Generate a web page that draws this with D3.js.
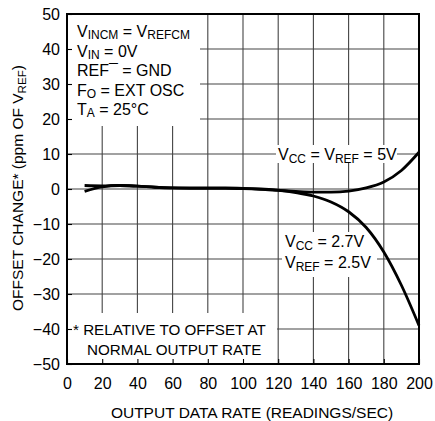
<!DOCTYPE html>
<html><head><meta charset="utf-8">
<script src="https://cdn.jsdelivr.net/npm/d3@7"></script>
<style>
body{margin:0;background:#fff;}
text{font-family:"Liberation Sans",Arial,Helvetica,sans-serif;fill:#000;}
</style></head>
<body>
<svg id="c" width="435" height="421"></svg>
<script>
const rates = [10,20,30,40,50,60,70,80,90,100,110,120,130,140,150,160,170,180,190,200];
const vcc5 = [1.0,0.9,1.0,0.8,0.5,0.3,0.2,0.2,0.2,0.1,-0.1,-0.4,-0.7,-0.9,-0.9,-0.6,0.3,2.0,5.3,10.5];
const vcc27 = [-0.7,0.6,1.0,0.8,0.5,0.3,0.3,0.3,0.3,0.2,0.0,-0.3,-1.0,-2.0,-3.7,-6.5,-11,-18,-27.5,-39];
const xTicks = [0,20,40,60,80,100,120,140,160,180,200];
const yTicks = [-50,-40,-30,-20,-10,0,10,20,30,40,50];

const L=67,R=419,T=14,B=364;
const svg=d3.select("#c");
const x=d3.scaleLinear().domain([0,200]).range([L,R]);
const y=d3.scaleLinear().domain([-50,50]).range([B,T]);

// grid
const g=svg.append("g");
g.selectAll(".vg").data(xTicks.slice(1,-1)).join("line")
 .attr("x1",d=>x(d)).attr("x2",d=>x(d)).attr("y1",T).attr("y2",B)
 .attr("stroke","#444").attr("stroke-width",1.1);
g.selectAll(".hg").data(yTicks.slice(1,-1)).join("line")
 .attr("y1",d=>y(d)).attr("y2",d=>y(d)).attr("x1",L).attr("x2",R)
 .attr("stroke","#444").attr("stroke-width",1.1);

const bg=svg.append("g");
const ann=svg.append("g");

// frame + inward ticks
svg.append("rect").attr("x",L).attr("y",T).attr("width",R-L).attr("height",B-T)
 .attr("fill","none").attr("stroke","#000").attr("stroke-width",2);
const ya=svg.append("g").attr("transform",`translate(${L},0)`)
 .call(d3.axisLeft(y).tickValues(yTicks).tickSizeInner(-5).tickSizeOuter(0).tickPadding(7));
const xa=svg.append("g").attr("transform",`translate(0,${B})`)
 .call(d3.axisBottom(x).tickValues(xTicks).tickSizeInner(-5).tickSizeOuter(0).tickPadding(14));
[ya,xa].forEach(a=>{a.select(".domain").remove();
 a.selectAll("line").attr("stroke","#000").attr("stroke-width",1.1);
 a.selectAll("text").attr("font-size",16).attr("font-family","'Liberation Sans',Arial,sans-serif").attr("fill","#000");});

// curves
const line=d3.line().x((d,i)=>x(rates[i])).y(d=>y(d)).curve(d3.curveMonotoneX);
[vcc5,vcc27].forEach(s=>svg.append("path").attr("d",line(s)).attr("fill","none")
 .attr("stroke","#000").attr("stroke-width",2.8).attr("stroke-linecap","butt"));

// rich text helper: parts = [[text, 'n'|'sub']]
function rich(parent,xp,yp,parts,size,subShift){
 const t=parent.append("text").attr("x",xp).attr("y",yp).attr("font-size",size);
 let shift=0;
 parts.forEach(([s,k])=>{
  const ts=t.append("tspan").text(s);
  let target = k==="sub"?(subShift||0.2)*size:0;
  ts.attr("dy",target-shift); shift=target;
  if(k!=="n") ts.attr("font-size",size*0.75);
 });
 return t;
}
function bgRect(x0,y0,x1,y1){bg.append("rect").attr("x",x0).attr("y",y0).attr("width",x1-x0).attr("height",y1-y0).attr("fill","#fff");}

// top-left box
bgRect(L+1,T+1,200,126);
const tl=[
 [["V","n"],["INCM","sub"],[" = V","n"],["REFCM","sub"]],
 [["V","n"],["IN","sub"],[" = 0V","n"]],
 [["REF¯ = GND","n"]],
 [["F","n"],["O","sub"],[" = EXT OSC","n"]],
 [["T","n"],["A","sub"],[" = 25°C","n"]]
];
tl.forEach((p,i)=>rich(ann,77,37+i*19.5,p,16,0.14));

// 5V label
bgRect(276,145,397,163);
rich(ann,278,160,[["V","n"],["CC","sub"],[" = V","n"],["REF","sub"],[" = 5V","n"]],16);

// 2.7V label
bgRect(282,232,377,277);
rich(ann,285,247,[["V","n"],["CC","sub"],[" = 2.7V","n"]],16);
rich(ann,285,268,[["V","n"],["REF","sub"],[" = 2.5V","n"]],16);

// bottom note
bgRect(L+1,313,277,B-1);
ann.append("text").attr("x",73).attr("y",335).attr("font-size",15.2).text("*  RELATIVE TO OFFSET AT");
ann.append("text").attr("x",87).attr("y",355).attr("font-size",15.2).text("NORMAL OUTPUT RATE");

// axis titles
svg.append("text").attr("x",(L+R)/2+9).attr("y",418).attr("text-anchor","middle").attr("font-size",15.5)
 .text("OUTPUT DATA RATE (READINGS/SEC)");
const yt=svg.append("g").attr("transform","translate(23,188) rotate(-90)");
const ytt=rich(yt,0,0,[["OFFSET CHANGE* (ppm OF V","n"],["REF","sub"],[")","n"]],15.5);
ytt.attr("text-anchor","middle");
</script>
</body></html>
